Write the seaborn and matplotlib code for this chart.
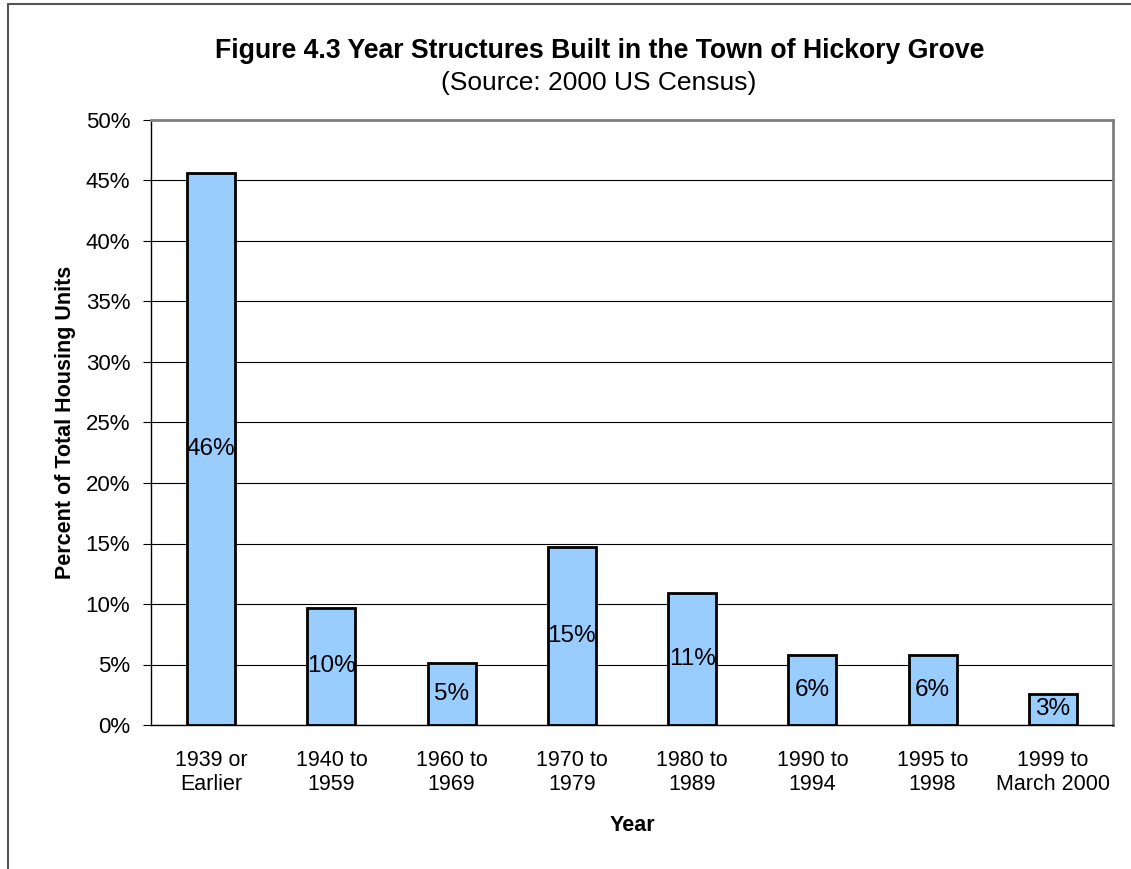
import matplotlib
matplotlib.use("Agg")
import matplotlib.pyplot as plt
import seaborn as sns
import pandas as pd
from matplotlib.lines import Line2D
from matplotlib.ticker import MultipleLocator, FuncFormatter

# Data
categories = ["1939 or\nEarlier", "1940 to\n1959", "1960 to\n1969", "1970 to\n1979",
              "1980 to\n1989", "1990 to\n1994", "1995 to\n1998", "1999 to\nMarch 2000"]
percent_units = [45.6, 9.7, 5.1, 14.7, 10.9, 5.8, 5.8, 2.6]

df = pd.DataFrame({"Year": categories, "Percent": percent_units})

sns.set_style("white")
plt.rcParams['font.family'] = ['Liberation Sans', 'DejaVu Sans']
plt.rcParams['text.color'] = 'black'
plt.rcParams['axes.labelcolor'] = 'black'
plt.rcParams['xtick.color'] = 'black'
plt.rcParams['ytick.color'] = 'black'

fig = plt.figure(figsize=(11.31, 8.69), dpi=100)
ax = fig.add_axes([151 / 1131, 1 - 725 / 869, (1113 - 151) / 1131, (725 - 120) / 869])

sns.barplot(data=df, x="Year", y="Percent", color="#99CCFF", edgecolor="black",
            linewidth=2, width=0.4, saturation=1, ax=ax)

ax.bar_label(ax.containers[0], labels=[f"{v:.0f}%" for v in percent_units],
             label_type="center", fontsize=17.5, color="black")

ax.set_ylim(0, 50)
ax.set_xlim(-0.5, len(categories) - 0.5)
ax.yaxis.set_major_locator(MultipleLocator(5))
ax.yaxis.set_major_formatter(FuncFormatter(lambda v, p: f"{v:.0f}%"))
ax.grid(axis="y", color="black", linewidth=0.8)
ax.set_axisbelow(True)

# ticks between categories on x
ax.set_xticks([i - 0.5 for i in range(len(categories) + 1)], minor=True)
ax.tick_params(axis="x", which="minor", length=6, width=0.8, color="black", direction="out")
ax.tick_params(axis="x", which="major", length=0, pad=18, labelsize=15.5)
ax.tick_params(axis="y", length=6, width=0.8, color="black", direction="out",
               labelsize=16, left=True, pad=9)

for side in ["left", "bottom"]:
    ax.spines[side].set_color("black")
    ax.spines[side].set_linewidth(1)
for side in ["top", "right"]:
    ax.spines[side].set_visible(True)
    ax.spines[side].set_color("#808080")
    ax.spines[side].set_linewidth(2)

ax.set_xlabel("Year", fontsize=15.5, fontweight="bold", labelpad=14)
ax.set_ylabel("Percent of Total Housing Units", fontsize=15.5, fontweight="bold", labelpad=7)

fig.text(600 / 1131, 1 - 51 / 869, "Figure 4.3 Year Structures Built in the Town of Hickory Grove",
         ha="center", va="center", fontsize=19.2, fontweight="bold")
fig.text(599 / 1131, 1 - 83 / 869, "(Source: 2000 US Census)", ha="center", va="center", fontsize=19)

# partial frame around the chart
fig.add_artist(Line2D([8 / 1131, 1], [1 - 4 / 869, 1 - 4 / 869], color="#555555", linewidth=1.5))
fig.add_artist(Line2D([8 / 1131, 8 / 1131], [0, 1 - 4 / 869], color="#555555", linewidth=1.5))

fig.savefig("out.png", dpi=100)
